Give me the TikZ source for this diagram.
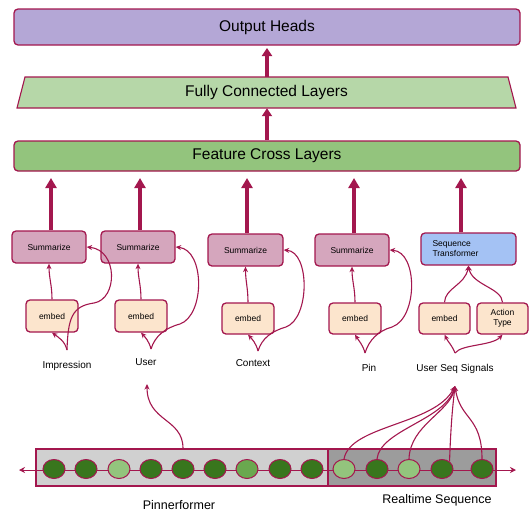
\documentclass[tikz,border=0pt]{standalone}
\usepackage{fontspec}
\setmainfont{Liberation Sans}
\usetikzlibrary{arrows.meta,shapes.geometric}
\definecolor{crim}{HTML}{A3174E}
\definecolor{lav}{HTML}{B4A7D6}
\definecolor{lgreen}{HTML}{B6D7A8}
\definecolor{mgreen}{HTML}{93C47D}
\definecolor{pinkbox}{HTML}{D5A6BD}
\definecolor{peach}{HTML}{FCE5CD}
\definecolor{lblue}{HTML}{A4C2F4}
\definecolor{dkg}{HTML}{38761D}
\definecolor{ltg}{HTML}{93C47D}
\definecolor{mdg}{HTML}{6AA84F}
\definecolor{gl}{HTML}{D0D0D0}
\definecolor{gd}{HTML}{9C9C9C}
\begin{document}
\begin{tikzpicture}[x=1pt,y=-1pt,
  box/.style={draw=crim, line width=1.3pt, rounded corners=4pt, inner sep=0pt, align=center},
  bigbox/.style={box, font=\fontsize{15.5}{18}\selectfont},
  smallbox/.style={box, font=\fontsize{8.5}{10}\selectfont},
  sumbox/.style={smallbox, fill=pinkbox, minimum width=74pt, minimum height=32pt},
  embbox/.style={smallbox, fill=peach, minimum width=52pt, minimum height=31pt},
  lbl/.style={font=\fontsize{10}{12}\selectfont, inner sep=0pt},
  biglbl/.style={font=\fontsize{12.5}{15}\selectfont, inner sep=0pt},
  conn/.style={draw=crim, line width=1.1pt, -{Stealth[length=5.5pt,width=5pt]}},
  thickarr/.style={draw=crim, line width=3.6pt, -{Triangle[length=10pt,width=11pt]}},
  midarr/.style={draw=crim, line width=3.2pt, -{Triangle[length=8pt,width=10pt]}},
  bead/.style={ellipse, draw=crim, line width=1pt, minimum width=22pt, minimum height=19pt, inner sep=0pt},
]
\useasboundingbox (0,0) rectangle (532,525);

% top layers
\node[bigbox, fill=lav, minimum width=506pt, minimum height=36pt] (out) at (267,27) {Output Heads};
\fill[lgreen] (25,77) -- (508,77) -- (516,108) -- (17,108) -- cycle;
\draw[crim, line width=1.1pt] (25,77) -- (508,77) -- (516,108) -- (17,108) -- cycle;
\node[font=\fontsize{15.5}{18}\selectfont, minimum width=483pt, minimum height=31pt, inner sep=0pt] (fcl) at (266.5,92.5) {Fully Connected Layers};
\node[bigbox, fill=mgreen, minimum width=506pt, minimum height=30pt] (fx) at (267,156) {Feature Cross Layers};

\coordinate (outin) at (267,48);
\draw[midarr] (fcl.north -| 267,0) -- (outin);
\draw[midarr] (fx.north -| 267,0) -- (fcl.south -| 267,0);

% summarize row
\node[sumbox] (s1) at (49,247) {Summarize};
\node[sumbox] (s2) at (138,247) {Summarize};
\node[sumbox, minimum width=75pt] (s3) at (245.5,250) {Summarize};
\node[sumbox] (s4) at (352,250) {Summarize};
\node[smallbox, fill=lblue, minimum width=95pt, minimum height=32pt, text width=72pt, align=left] (st) at (468.5,249) {Sequence\\Transformer};

\coordinate (fx1) at (51,178);
\coordinate (fx2) at (140,178);
\coordinate (fx3) at (247,178);
\coordinate (fx4) at (354,178);
\coordinate (fx5) at (461,178);
\draw[thickarr] (s1.north -| fx1) -- (fx1);
\draw[thickarr] (s2.north -| fx2) -- (fx2);
\draw[thickarr] (s3.north -| fx3) -- (fx3);
\draw[thickarr] (s4.north -| fx4) -- (fx4);
\draw[thickarr] (st.north -| fx5) -- (fx5);

% embed row
\node[embbox, minimum height=32pt] (e1) at (52,316) {embed};
\node[embbox, minimum height=32pt] (e2) at (141,316) {embed};
\node[embbox] (e3) at (248,318.5) {embed};
\node[embbox] (e4) at (355,318.5) {embed};
\node[embbox, minimum width=51pt] (e5) at (444.5,318.5) {embed};
\node[embbox, minimum width=51pt] (at) at (502.5,318.5) {Action\\Type};

\draw[conn] (e1.north) .. controls (52,285) and (49,278) .. (s1.south);
\draw[conn] (e2.north) .. controls (141,285) and (138,278) .. (s2.south);
\draw[conn] (e3.north) .. controls (248,288) and (245.5,281) .. (s3.south);
\draw[conn] (e4.north) .. controls (355,288) and (352,281) .. (s4.south);
\draw[conn] (e5.north) .. controls (445,288) and (465,285) .. (st.south);
\draw[conn] (at.north) .. controls (502,288) and (472,285) .. (st.south);

% labels and forks
\node[lbl] (limp) at (67,366) {Impression};
\node[lbl] (luser) at (146,362) {User};
\node[lbl] (lctx) at (253,363) {Context};
\node[lbl] (lpin) at (369,368) {Pin};
\node[lbl] (lseq) at (455,369) {User Seq Signals};

\coordinate (fi) at (67,350);
\coordinate (fu) at (151,349);
\coordinate (fc) at (258,351);
\coordinate (fp) at (365,353);
\coordinate (fs) at (455,353);

\draw[conn] (fi) .. controls (65,341) and (58,337) .. (e1.south);
\draw[conn] (fi) .. controls (68,318) and (72,306) .. (94,303) .. controls (118,299) and (118,250) .. (s1.east);
\draw[conn] (fu) .. controls (149,341) and (145,337) .. (e2.south);
\draw[conn] (fu) .. controls (155,336) and (165,328) .. (180,324) .. controls (205,315) and (205,250) .. (s2.east);
\draw[conn] (fc) .. controls (256,343) and (252,339) .. (e3.south);
\draw[conn] (fc) .. controls (262,338) and (272,331) .. (286,327) .. controls (310,318) and (310,252) .. (s3.east);
\draw[conn] (fp) .. controls (363,345) and (359,341) .. (e4.south);
\draw[conn] (fp) .. controls (369,340) and (378,331) .. (392,327) .. controls (418,318) and (418,252) .. (s4.east);
\draw[conn] (fs) .. controls (452,345) and (448,342) .. (e5.south);
\draw[conn] (fs) .. controls (462,344) and (492,346) .. (at.south);

% bottom sequence
\node[draw=crim, line width=1.1pt, fill=gl, minimum width=292pt, minimum height=37pt, inner sep=0pt] (pf) at (182,467.5) {};
\node[draw=crim, line width=1.1pt, fill=gd, minimum width=168pt, minimum height=37pt, inner sep=0pt] (rs) at (412,467.5) {};
\coordinate (tl) at (19,470);
\coordinate (tr) at (516,470);
\draw[crim, line width=1pt, {Stealth[length=6pt,width=6pt]}-{Stealth[length=6pt,width=6pt]}] (tl) -- (tr);

\node[bead, fill=dkg] (c1) at (54,469) {};
\node[bead, fill=dkg] (c2) at (86,469) {};
\node[bead, fill=ltg] (c3) at (119,469) {};
\node[bead, fill=dkg] (c4) at (151,469) {};
\node[bead, fill=dkg] (c5) at (183,469) {};
\node[bead, fill=dkg] (c6) at (215,469) {};
\node[bead, fill=mdg] (c7) at (247,469) {};
\node[bead, fill=dkg] (c8) at (280,469) {};
\node[bead, fill=dkg] (c9) at (312,469) {};
\node[bead, fill=ltg] (r1) at (344,469) {};
\node[bead, fill=dkg] (r2) at (377,469) {};
\node[bead, fill=ltg] (r3) at (409,469) {};
\node[bead, fill=dkg] (r4) at (442,469) {};
\node[bead, fill=dkg] (r5) at (482,469) {};

\coordinate (uin) at (147,384);
\draw[conn] (pf.north -| 183,0) .. controls (183,418) and (147,422) .. (uin);

\coordinate (rin) at (455,386);
\draw[conn] (r1.north) .. controls (350,425) and (435,425) .. (rin);
\draw[conn] (r2.north) .. controls (380,430) and (445,420) .. (rin);
\draw[conn] (r3.north) .. controls (410,425) and (450,412) .. (rin);
\draw[conn] (r4.45) .. controls (451,420) and (453,404) .. (rin);
\draw[conn] (r5.north) .. controls (482,416) and (460,420) .. (rin);

\node[biglbl] (lpf) at (179,505) {Pinnerformer};
\node[biglbl] (lrs) at (437,500) {Realtime Sequence};
\end{tikzpicture}
\end{document}
